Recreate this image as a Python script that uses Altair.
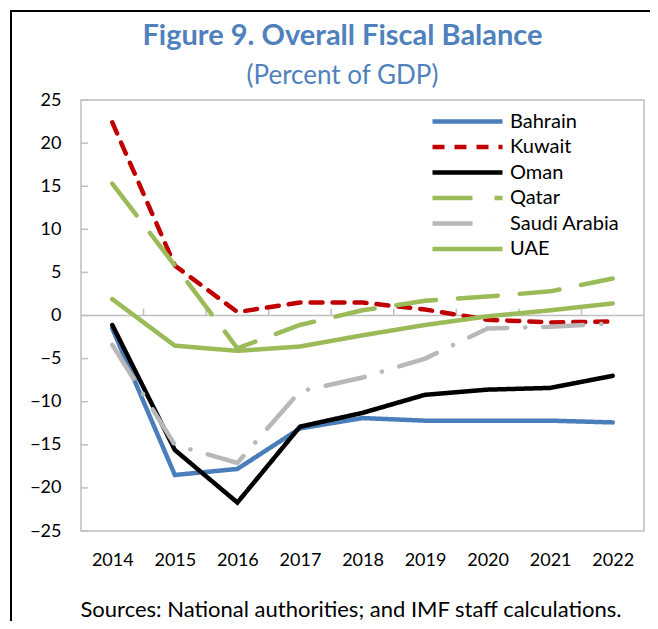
import altair as alt
import pandas as pd

years = [2014, 2015, 2016, 2017, 2018, 2019, 2020, 2021, 2022]
countries = ["Bahrain", "Kuwait", "Oman", "Qatar", "Saudi Arabia", "UAE"]
bahrain = [-1.5, -18.5, -17.8, -13.1, -11.9, -12.2, -12.2, -12.2, -12.4]
kuwait = [22.4, 5.8, 0.4, 1.5, 1.5, 0.7, -0.5, -0.8, -0.7]
oman = [-1.1, -15.6, -21.7, -12.9, -11.3, -9.2, -8.6, -8.4, -7.0]
qatar = [15.3, 5.8, -3.8, -1.1, 0.6, 1.7, 2.2, 2.8, 4.3]
saudi = [-3.4, -15.0, -17.1, -8.8, -7.2, -5.0, -1.5, -1.3, -0.9]
uae = [1.9, -3.5, -4.1, -3.6, -2.3, -1.1, -0.1, 0.6, 1.4]
y_ticks = [-25, -20, -15, -10, -5, 0, 5, 10, 15, 20, 25]

colors = ["#4A7EBB", "#C00000", "#000000", "#9BBB59", "#B8B8B8", "#9BBB59"]
dashes = [[1, 0], [12, 10], [1, 0], [40, 22], [40, 18, 0.1, 18], [1, 0]]

series = dict(zip(countries, [bahrain, kuwait, oman, qatar, saudi, uae]))
rows = []
for c in countries:
    for yr, v in zip(years, series[c]):
        rows.append({"year": yr, "value": v, "country": c})
df = pd.DataFrame(rows)

boundaries = pd.DataFrame({"b": [y + 0.5 for y in years[:-1]], "z": 0, "z2": 0.8})
yt = pd.DataFrame({"t": y_ticks})

xscale = alt.Scale(domain=[years[0] - 0.5, years[-1] + 0.5], nice=False, zero=False)
yscale = alt.Scale(domain=[-25, 25], nice=False)

lines = alt.Chart(df).mark_line(strokeWidth=4.5, strokeCap="round").encode(
    x=alt.X("year:Q", scale=xscale,
            axis=alt.Axis(values=years, format="d", ticks=False, domain=False, grid=False,
                          labelPadding=20, labelFontSize=18, labelColor="#000",
                          title="Sources: National authorities; and IMF staff calculations.",
                          titleFontSize=22, titleFontWeight="normal", titleColor="#000",
                          titleAnchor="start", titleAlign="left", titleBaseline="alphabetic",
                          titleX=-1, titleY=85)),
    y=alt.Y("value:Q", scale=yscale,
            axis=alt.Axis(values=y_ticks, ticks=False, domain=False, grid=False,
                          labelPadding=20, labelFontSize=18, labelColor="#000", title=None)),
    color=alt.Color("country:N", scale=alt.Scale(domain=countries, range=colors),
                    legend=alt.Legend(title=None, orient="none", legendX=351, legendY=9,
                                      symbolType="M-3.5,0H3.5", symbolSize=400,
                                      symbolStrokeWidth=4.5, symbolOffset=23,
                                      labelFontSize=20, labelOffset=30, labelColor="#000",
                                      padding=0, rowPadding=2.5)),
    strokeDash=alt.StrokeDash("country:N", scale=alt.Scale(domain=countries, range=dashes),
                              legend=alt.Legend(title=None)),
)

zero = alt.Chart(alt.Data(values=[{"z": 0}])).mark_rule(color="#BFBFBF", strokeWidth=1.5).encode(
    y=alt.Y("z:Q", scale=yscale)
)
xticks = alt.Chart(boundaries).mark_rule(color="#BFBFBF", strokeWidth=1.5).encode(
    x=alt.X("b:Q", scale=xscale), y=alt.Y("z:Q", scale=yscale), y2="z2:Q"
)
yticks = alt.Chart(yt).mark_rule(color="#BFBFBF", strokeWidth=1.5).encode(
    y=alt.Y("t:Q", scale=yscale), x=alt.value(0), x2=alt.value(7)
)
frame_left = alt.Chart(alt.Data(values=[{}])).mark_rule(color="#000", strokeWidth=2).encode(
    x=alt.value(-70), y=alt.value(-89), y2=alt.value(530)
)
frame_top = alt.Chart(alt.Data(values=[{}])).mark_rule(color="#000", strokeWidth=2).encode(
    y=alt.value(-89), x=alt.value(-71), x2=alt.value(580)
)

chart = alt.layer(frame_left, frame_top, zero, xticks, yticks, lines).properties(
    width=563, height=431,
    title=alt.TitleParams(text="Figure 9. Overall Fiscal Balance", subtitle="(Percent of GDP)",
                          anchor="middle", dx=-20, fontSize=29, fontWeight="bold",
                          color="#4F81BD", subtitleColor="#4F81BD", subtitleFontSize=26,
                          subtitlePadding=12, font="Lato", subtitleFont="Lato", offset=-79),
    autosize=alt.AutoSizeParams(type="none"),
    padding={"left": 73, "top": 92, "right": 6, "bottom": 90},
).configure(font="Lato").configure_view(stroke="#BFBFBF", strokeWidth=1.5)

chart.save("out.html", embed_options={"renderer": "svg", "actions": False})
